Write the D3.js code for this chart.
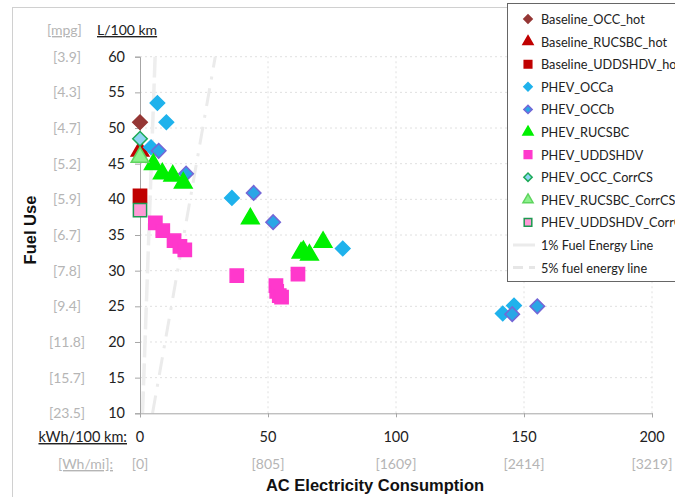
<!DOCTYPE html>
<html lang="en">
<head>
<meta charset="UTF-8">
<title>Fuel Use vs AC Electricity Consumption</title>
<style>
    body { margin: 0; padding: 0; background: #fff; overflow: hidden; }
    svg { display: block; font-family: Lato, "Open Sans", sans-serif; }
</style>
</head>
<body>
<div id="chart"></div>
<script src="https://d3js.org/d3.v7.min.js"></script>
<script>
// tick labels
const yTicks = [10, 15, 20, 25, 30, 35, 40, 45, 50, 55, 60];
const mpgLabels = ['[23.5]', '[15.7]', '[11.8]', '[9.4]', '[7.8]', '[6.7]', '[5.9]', '[5.2]', '[4.7]', '[4.3]', '[3.9]'];
const xTicks = [0, 50, 100, 150, 200];
const whmiLabels = ['[0]', '[805]', '[1609]', '[2414]', '[3219]'];

// series: [kWh/100 km, L/100 km]
const baselineOCC = [[0, 50.8]];
const baselineRUCSBC = [[0, 46.8]];
const baselineUDDSHDV = [[0, 40.5]];
const phevOCCa = [[6.8, 53.5], [10.3, 50.8], [4.3, 47.3], [35.9, 40.2], [79.2, 33.1], [141.7, 24.0], [146.1, 25.1]];
const phevOCCb = [[7.3, 46.8], [18.0, 43.6], [44.4, 40.9], [52.0, 36.8], [145.4, 23.9], [155.2, 25.0]];
const phevRUCSBC = [[5.2, 44.9], [8.7, 43.6], [12.8, 43.3], [16.9, 42.3], [43.1, 37.3], [62.9, 32.5], [63.8, 32.7], [66.2, 32.2], [71.5, 34.0]];
const phevUDDSHDV = [[6.0, 36.7], [8.9, 35.6], [13.3, 34.2], [15.6, 33.4], [17.5, 32.9], [37.8, 29.3], [53.1, 27.9], [53.4, 27.1], [54.4, 26.5], [55.3, 26.3], [61.7, 29.5]];
const occCorrCS = [[0, 48.5]];
const rucsbcCorrCS = [[0, 45.9]];
const uddshdvCorrCS = [[0, 38.5]];

// fuel energy reference lines
const lineFuel = [10, 60];
const line1pct = [0.98, 5.9];
const line5pct = [4.9, 29.4];

const width = 675, height = 497;
const svg = d3.select('#chart').append('svg')
    .attr('width', width)
    .attr('height', height);

// outer chart border
svg.append('rect')
    .attr('x', 12.5).attr('y', 7.5)
    .attr('width', 700).attr('height', 520)
    .attr('fill', 'none')
    .attr('stroke', '#d0d0d0');

const x = d3.scaleLinear().domain([0, 200]).range([140, 652]);
const y = d3.scaleLinear().domain([10, 60]).range([413.3, 56.7]);

// gridlines
svg.append('g').selectAll('line')
    .data(yTicks.filter(d => d > 10))
    .enter().append('line')
    .attr('x1', x(0)).attr('x2', x(200))
    .attr('y1', d => y(d)).attr('y2', d => y(d))
    .attr('stroke', '#e0e0e0')
    .attr('stroke-dasharray', '2,3');

svg.append('g').selectAll('line')
    .data(xTicks.filter(d => d > 0))
    .enter().append('line')
    .attr('x1', d => x(d)).attr('x2', d => x(d))
    .attr('y1', y(10)).attr('y2', y(60))
    .attr('stroke', '#e0e0e0')
    .attr('stroke-dasharray', '2,3');

// reference lines
svg.append('line')
    .attr('x1', x(line1pct[0])).attr('y1', y(lineFuel[0]))
    .attr('x2', x(line1pct[1])).attr('y2', y(lineFuel[1]))
    .attr('stroke', '#eeeeee')
    .attr('stroke-width', 3.5)
    .attr('stroke-dasharray', '22,6');

svg.append('line')
    .attr('x1', x(line5pct[0])).attr('y1', y(lineFuel[0]))
    .attr('x2', x(line5pct[1])).attr('y2', y(lineFuel[1]))
    .attr('stroke', '#ebebeb')
    .attr('stroke-width', 3)
    .attr('stroke-dasharray', '18,9,3,9');

// axes
const yAxis = svg.append('g')
    .attr('transform', `translate(${x(0)},0)`)
    .call(d3.axisLeft(y).tickValues(yTicks).tickSize(5).tickFormat(''));
const xAxis = svg.append('g')
    .attr('transform', `translate(0,${y(10)})`)
    .call(d3.axisBottom(x).tickValues(xTicks).tickSize(4).tickFormat(''));
[yAxis, xAxis].forEach(a => {
    a.select('.domain').attr('stroke', '#a6a6a6');
    a.selectAll('.tick line').attr('stroke', '#a6a6a6');
});

// y tick labels
svg.append('g').selectAll('text')
    .data(yTicks)
    .enter().append('text')
    .attr('x', 125).attr('y', d => y(d) + 5)
    .attr('text-anchor', 'end')
    .attr('font-size', 14.5)
    .attr('fill', '#222')
    .text(d => d);

svg.append('g').selectAll('text')
    .data(yTicks)
    .enter().append('text')
    .attr('x', 67).attr('y', d => y(d) + 5)
    .attr('text-anchor', 'middle')
    .attr('font-size', 14)
    .attr('fill', '#b5b5b5')
    .text((d, i) => mpgLabels[i]);

// unit headers
svg.append('text')
    .attr('x', 47).attr('y', 35)
    .attr('font-size', 14).attr('fill', '#b5b5b5')
    .attr('text-decoration', 'underline')
    .text('[mpg]');
svg.append('text')
    .attr('x', 97).attr('y', 35)
    .attr('font-size', 14).attr('fill', '#222')
    .attr('text-decoration', 'underline')
    .text('L/100 km');

// x tick labels
svg.append('g').selectAll('text')
    .data(xTicks)
    .enter().append('text')
    .attr('x', d => x(d)).attr('y', 442)
    .attr('text-anchor', 'middle')
    .attr('font-size', 14.5)
    .attr('fill', '#222')
    .text(d => d);

svg.append('g').selectAll('text')
    .data(xTicks)
    .enter().append('text')
    .attr('x', d => x(d)).attr('y', 469)
    .attr('text-anchor', 'middle')
    .attr('font-size', 14)
    .attr('fill', '#b5b5b5')
    .text((d, i) => whmiLabels[i]);

svg.append('text')
    .attr('x', 127).attr('y', 442)
    .attr('text-anchor', 'end')
    .attr('font-size', 14.5).attr('fill', '#222')
    .attr('text-decoration', 'underline')
    .text('kWh/100 km:');
svg.append('text')
    .attr('x', 113).attr('y', 469)
    .attr('text-anchor', 'end')
    .attr('font-size', 14).attr('fill', '#b5b5b5')
    .attr('text-decoration', 'underline')
    .text('[Wh/mi]:');

// axis titles
svg.append('text')
    .attr('x', 375).attr('y', 491)
    .attr('text-anchor', 'middle')
    .attr('font-family', '"Liberation Sans", Arial, sans-serif')
    .attr('font-weight', 'bold')
    .attr('font-size', 16.5)
    .attr('fill', '#111')
    .text('AC Electricity Consumption');
svg.append('text')
    .attr('transform', 'translate(36,230) rotate(-90)')
    .attr('text-anchor', 'middle')
    .attr('font-family', '"Liberation Sans", Arial, sans-serif')
    .attr('font-weight', 'bold')
    .attr('font-size', 16.5)
    .attr('fill', '#111')
    .text('Fuel Use');

// series definitions ('diamond' = square turned 45 degrees)
const series = [
    { name: 'Baseline_OCC_hot', data: baselineOCC, shape: 'diamond', fill: '#953735', stroke: '#953735' },
    { name: 'Baseline_RUCSBC_hot', data: baselineRUCSBC, shape: 'triangle', fill: '#c00000', stroke: '#c00000' },
    { name: 'Baseline_UDDSHDV_hot', data: baselineUDDSHDV, shape: 'square', fill: '#c00000', stroke: '#c00000' },
    { name: 'PHEV_OCCa', data: phevOCCa, shape: 'diamond', fill: '#1fb2ec', stroke: '#1fb2ec' },
    { name: 'PHEV_OCCb', data: phevOCCb, shape: 'diamond', fill: '#2aa6e6', stroke: '#7466d6' },
    { name: 'PHEV_RUCSBC', data: phevRUCSBC, shape: 'triangle', fill: '#00f000', stroke: '#00f000' },
    { name: 'PHEV_UDDSHDV', data: phevUDDSHDV, shape: 'square', fill: '#ff38cc', stroke: '#ff38cc' },
    { name: 'PHEV_OCC_CorrCS', data: occCorrCS, shape: 'diamond', fill: '#8fd4f2', stroke: '#1caa58' },
    { name: 'PHEV_RUCSBC_CorrCS', data: rucsbcCorrCS, shape: 'triangle', fill: '#8cf08c', stroke: '#5ed45e' },
    { name: 'PHEV_UDDSHDV_CorrCS', data: uddshdvCorrCS, shape: 'square', fill: '#ff99d6', stroke: '#1c9a50' }
];

const symType = { diamond: d3.symbolSquare, square: d3.symbolSquare, triangle: d3.symbolTriangle };
const symSize = { diamond: 105, square: 175, triangle: 135 };
const rot = s => s === 'diamond' ? ' rotate(45)' : '';

series.forEach(s => {
    svg.append('g').selectAll('path')
        .data(s.data)
        .enter().append('path')
        .attr('transform', d => `translate(${x(d[0])},${y(d[1])})` + rot(s.shape))
        .attr('d', d3.symbol().type(symType[s.shape]).size(symSize[s.shape]))
        .attr('fill', s.fill)
        .attr('stroke', s.stroke)
        .attr('stroke-width', 1.5);
});

// legend
const legend = svg.append('g');
legend.append('rect')
    .attr('x', 507.5).attr('y', 3.5)
    .attr('width', 200).attr('height', 278)
    .attr('fill', '#fff')
    .attr('stroke', '#666');

const rowY = i => 19 + i * 22.6;
series.forEach((s, i) => {
    legend.append('path')
        .attr('transform', `translate(528,${rowY(i)})` + rot(s.shape))
        .attr('d', d3.symbol().type(symType[s.shape]).size(symSize[s.shape] * 0.33))
        .attr('fill', s.fill)
        .attr('stroke', s.stroke)
        .attr('stroke-width', 1.5);
    legend.append('text')
        .attr('x', 541).attr('y', rowY(i) + 5)
        .attr('font-size', 12.7)
        .attr('fill', '#222')
        .text(s.name);
});

const lineItems = [
    { name: '1% Fuel Energy Line', dash: null, color: '#ebebeb' },
    { name: '5% fuel energy line', dash: '10,6', color: '#e6e6e6' }
];
lineItems.forEach((l, j) => {
    const yy = rowY(series.length + j);
    legend.append('line')
        .attr('x1', 513).attr('x2', 535)
        .attr('y1', yy).attr('y2', yy)
        .attr('stroke', l.color)
        .attr('stroke-width', 3)
        .attr('stroke-dasharray', l.dash);
    legend.append('text')
        .attr('x', 541).attr('y', yy + 5)
        .attr('font-size', 12.7)
        .attr('fill', '#222')
        .text(l.name);
});
</script>
</body>
</html>
